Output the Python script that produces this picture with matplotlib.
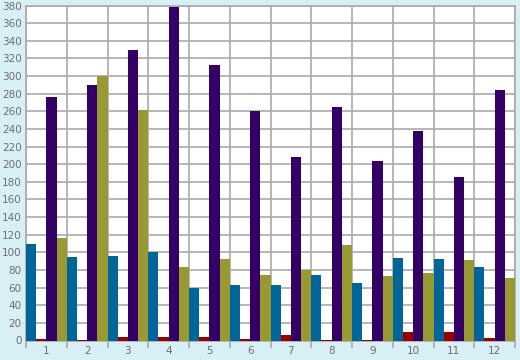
import matplotlib
matplotlib.use("Agg")
import matplotlib.pyplot as plt
import numpy as np

categories = ["1", "2", "3", "4", "5", "6", "7", "8", "9", "10", "11", "12"]
series_blue = [110, 95, 96, 100, 60, 63, 63, 74, 65, 94, 92, 83]
series_red = [1.5, 1, 4.5, 3.5, 4, 2, 6, 1, 1, 10, 10, 3]
series_purple = [276, 290, 329, 378, 313, 260, 208, 265, 204, 238, 186, 284]
series_olive = [116, 300, 261, 83, 93, 74, 80, 108, 73, 77, 91, 71]

series = [series_blue, series_red, series_purple, series_olive]
colors = ["#006699", "#990000", "#330066", "#999933"]

bg = "#d9eff6"
grid_c = "#aaaaaa"
text_c = "#6e6e6e"

fig = plt.figure(figsize=(5.2, 3.6), dpi=100, facecolor=bg)
ax = fig.add_axes([26 / 520, (360 - 340.5) / 360, (515 - 26) / 520, (340.5 - 5.5) / 360])
ax.set_facecolor("white")

x = np.arange(len(categories))
w = 0.25
offsets = [-0.375, -0.125, 0.125, 0.375]
for vals, c, off in zip(series, colors, offsets):
    ax.bar(x + off, vals, width=w, color=c, edgecolor="none", zorder=3)

ax.set_xlim(-0.5, len(categories) - 0.5)
ax.set_ylim(0, 380)
ax.set_yticks(np.arange(0, 381, 20))
ax.set_xticks(x)
ax.set_xticklabels(categories)
ax.set_xticks(np.arange(-0.5, len(categories) - 0.4, 1), minor=True)

ax.grid(False)
ax.yaxis.grid(True, color=grid_c, linewidth=1.2, zorder=1)
ax.xaxis.grid(True, which="minor", color=grid_c, linewidth=1.2, zorder=1)
ax.set_axisbelow(True)

for s in ax.spines.values():
    s.set_color(grid_c)
    s.set_linewidth(1.2)

ax.tick_params(axis="x", which="major", length=0, pad=4, labelsize=7.5, labelcolor=text_c)
ax.tick_params(axis="x", which="minor", length=5, width=1.2, color=grid_c)
ax.tick_params(axis="y", length=0, pad=3, labelsize=7.5, labelcolor=text_c)

fig.savefig("out.png", dpi=100, facecolor=bg)
